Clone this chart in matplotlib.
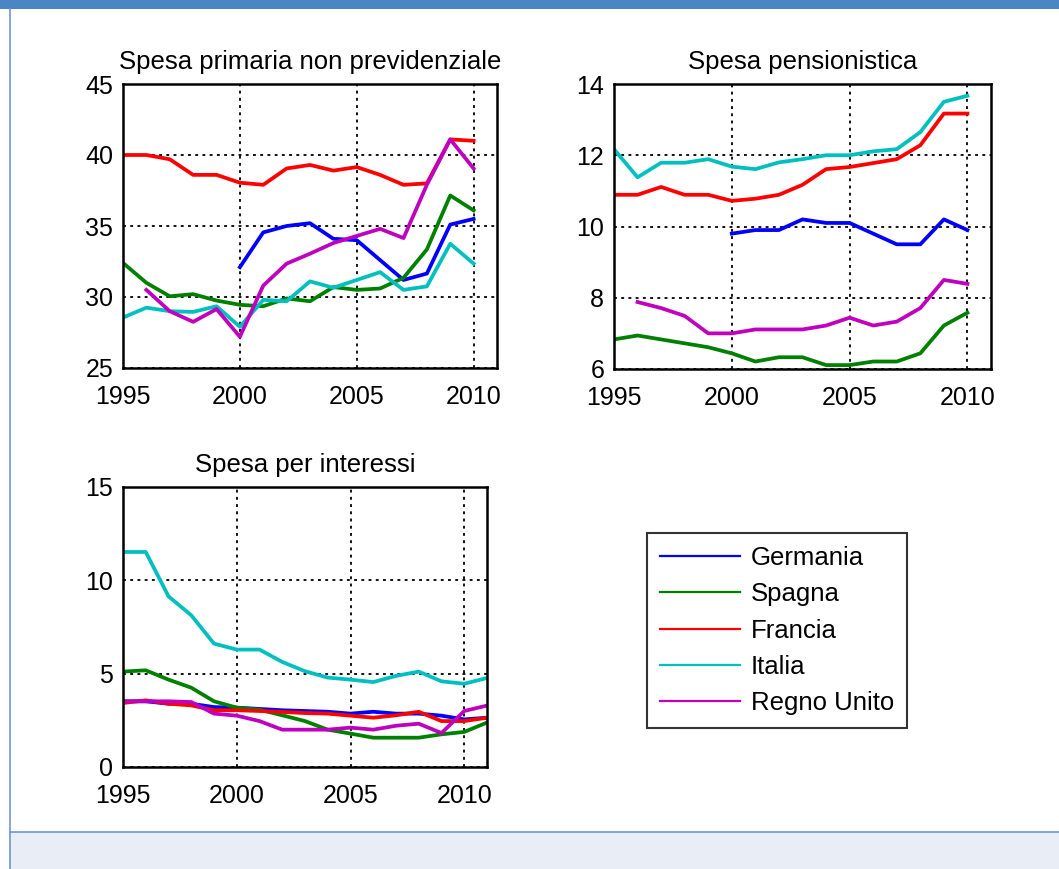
import numpy as np
import matplotlib
matplotlib.use("Agg")
import matplotlib.pyplot as plt
from matplotlib.lines import Line2D
from matplotlib.patches import Rectangle

plt.rcParams['font.family'] = ['Liberation Sans', 'DejaVu Sans']

nan = np.nan
countries = ["Germania", "Spagna", "Francia", "Italia", "Regno Unito"]
colors = ["#0000FF", "#008000", "#FF0000", "#00BFBF", "#BF00BF"]

years_a = list(range(1995, 2011))
years_b = list(range(1995, 2012))

# Spesa primaria non previdenziale
p1_germania = [nan, nan, nan, nan, nan, 32.1, 34.55, 35.0, 35.2, 34.1, 34.0, 32.6, 31.2, 31.65, 35.1, 35.5]
p1_spagna = [32.4, 31.0, 30.05, 30.2, 29.75, 29.45, 29.35, 29.9, 29.7, 30.7, 30.5, 30.6, 31.35, 33.35, 37.15, 36.1]
p1_francia = [40.0, 40.0, 39.7, 38.6, 38.6, 38.05, 37.9, 39.05, 39.3, 38.9, 39.15, 38.6, 37.9, 38.0, 41.1, 41.0]
p1_italia = [28.55, 29.25, 29.0, 28.95, 29.35, 27.9, 29.8, 29.7, 31.1, 30.65, 31.2, 31.75, 30.5, 30.75, 33.75, 32.35]
p1_regno = [nan, 30.5, 29.0, 28.25, 29.15, 27.2, 30.8, 32.35, 33.05, 33.8, 34.3, 34.8, 34.15, 37.9, 41.1, 39.05]

# Spesa pensionistica
p2_germania = [nan, nan, nan, nan, nan, 9.8, 9.9, 9.9, 10.2, 10.1, 10.1, 9.8, 9.5, 9.5, 10.2, 9.9]
p2_spagna = [6.83, 6.94, 6.83, 6.72, 6.61, 6.44, 6.21, 6.33, 6.33, 6.11, 6.11, 6.21, 6.21, 6.44, 7.22, 7.58]
p2_francia = [10.89, 10.89, 11.11, 10.89, 10.89, 10.72, 10.78, 10.89, 11.17, 11.61, 11.67, 11.78, 11.89, 12.28, 13.17, 13.17]
p2_italia = [12.17, 11.38, 11.79, 11.79, 11.89, 11.68, 11.61, 11.8, 11.89, 12.0, 12.0, 12.11, 12.17, 12.65, 13.5, 13.67]
p2_regno = [nan, 7.88, 7.71, 7.49, 7.0, 7.0, 7.11, 7.11, 7.11, 7.22, 7.44, 7.22, 7.33, 7.71, 8.5, 8.39]

# Spesa per interessi
p3_germania = [3.52, 3.52, 3.39, 3.39, 3.21, 3.18, 3.11, 3.04, 3.0, 2.96, 2.86, 2.96, 2.86, 2.86, 2.75, 2.55, 2.64]
p3_spagna = [5.11, 5.18, 4.68, 4.25, 3.52, 3.18, 3.07, 2.77, 2.46, 2.0, 1.79, 1.57, 1.57, 1.57, 1.75, 1.88, 2.38]
p3_francia = [3.43, 3.57, 3.39, 3.30, 3.04, 3.04, 3.0, 2.95, 2.89, 2.86, 2.75, 2.64, 2.77, 2.96, 2.46, 2.46, 2.64]
p3_italia = [11.52, 11.52, 9.14, 8.13, 6.61, 6.29, 6.29, 5.63, 5.13, 4.79, 4.68, 4.55, 4.88, 5.11, 4.59, 4.46, 4.77]
p3_regno = [3.52, 3.52, 3.52, 3.48, 2.86, 2.75, 2.46, 2.0, 2.0, 2.0, 2.11, 2.0, 2.21, 2.32, 1.82, 3.0, 3.29]

titles = ["Spesa primaria non previdenziale", "Spesa pensionistica", "Spesa per interessi"]
xticks = [1995, 2000, 2005, 2010]

W, H = 1059, 869
fig = plt.figure(figsize=(W / 100, H / 100), dpi=100)
fig.patch.set_facecolor("white")

# decorations
fig.add_artist(Rectangle((0, 1 - 8.5 / H), 1, 8.5 / H, transform=fig.transFigure,
                         facecolor="#4A85C6", edgecolor="none", zorder=0))
fig.add_artist(Rectangle((9.5 / W, 0), 1, 1 - 832 / H, transform=fig.transFigure,
                         facecolor="#E9EDF6", edgecolor="none", zorder=0))
fig.add_artist(Line2D([9.5 / W, 1], [1 - 832 / H, 1 - 832 / H], transform=fig.transFigure,
                      color="#6F96CF", lw=1.2, zorder=1))
fig.add_artist(Line2D([9.5 / W, 9.5 / W], [0, 1 - 8.5 / H], transform=fig.transFigure,
                      color="#6F96CF", lw=1.2, zorder=1))

FS = 18
TFS = 18.5


def make_ax(left, top, right, bottom):
    return fig.add_axes([left / W, 1 - bottom / H, (right - left) / W, (bottom - top) / H])


def style(ax, ylim, yticks, title):
    ax.set_xlim(1995, 2011)
    ax.set_ylim(*ylim)
    ax.set_xticks(xticks)
    ax.set_yticks(yticks)
    ax.grid(True, color="black", linestyle=(0, (1.6, 2.4)), linewidth=1.3)
    ax.tick_params(axis="both", length=0, labelsize=FS, colors="black")
    ax.tick_params(axis="x", pad=12.5)
    ax.tick_params(axis="y", pad=7)
    for s in ax.spines.values():
        s.set_linewidth(1.8)
        s.set_color("black")
    ax.set_title(title, fontsize=TFS, pad=11)


LW = 2.7

ax1 = make_ax(123, 84, 497, 368)
for vals, c in zip([p1_germania, p1_spagna, p1_francia, p1_italia, p1_regno], colors):
    ax1.plot(years_a, vals, color=c, lw=LW)
style(ax1, (25, 45), [25, 30, 35, 40, 45], titles[0])

ax2 = make_ax(614, 84, 991, 369)
for vals, c in zip([p2_germania, p2_spagna, p2_francia, p2_italia, p2_regno], colors):
    ax2.plot(years_a, vals, color=c, lw=LW)
style(ax2, (6, 14), [6, 8, 10, 12, 14], titles[1])

ax3 = make_ax(123, 487, 487, 767)
for vals, c in zip([p3_germania, p3_spagna, p3_francia, p3_italia, p3_regno], colors):
    ax3.plot(years_b, vals, color=c, lw=LW)
style(ax3, (0, 15), [0, 5, 10, 15], titles[2])

handles = [Line2D([], [], color=c, lw=1.6) for c in colors]
leg = fig.legend(handles, countries, loc="upper left",
                 bbox_to_anchor=(646.7 / W, 1 - 533.3 / H), bbox_transform=fig.transFigure,
                 borderaxespad=0, fontsize=18.5, frameon=True, fancybox=False,
                 edgecolor="black", handlelength=3.15, handletextpad=0.4,
                 labelspacing=0.48, borderpad=0.5)
leg.get_frame().set_linewidth(1.5)

fig.savefig("out.png", dpi=100)
